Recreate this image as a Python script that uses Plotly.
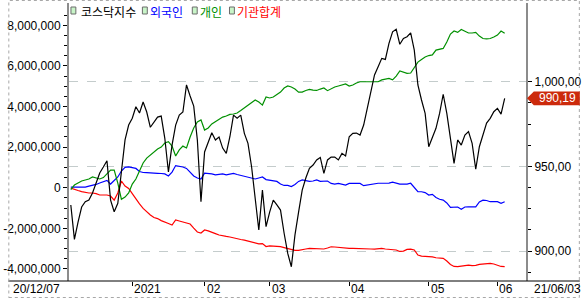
import plotly.graph_objects as go

# ---------------- data ----------------
series_names = ["코스닥지수", "외국인", "개인", "기관합계"]

# KOSDAQ index, one value per trading day 2020-12-07 .. 2021-06-03
kosdaq = [
    927.2, 906.9, 917.1, 926.0, 929.1, 930.1, 934.3, 940.9, 946.1, 949.6,
    953.3, 930.1, 923.2, 928.2, 945.9, 965.6, 974.4, 978.4, 985.2, 981.5,
    988.0, 982.1, 973.1, 976.2, 979.1, 979.7, 966.6, 946.7, 962.6, 974.4,
    980.3, 982.1, 998.1, 991.6, 985.6, 965.6, 929.1, 958.5, 964.4, 969.9,
    965.6, 967.3, 960.8, 957.7, 967.5, 980.3, 978.4, 980.3, 969.5, 963.6,
    949.8, 932.1, 912.4, 936.0, 914.4, 923.0, 930.1, 927.2, 924.2, 910.5,
    898.6, 890.7, 909.5, 923.0, 936.0, 943.1, 948.8, 950.8, 953.8, 955.3,
    945.9, 953.8, 955.5, 955.5, 953.8, 957.7, 956.1, 967.5, 969.5, 969.7,
    968.5, 974.4, 984.5, 995.1, 1004.0, 1008.9, 1013.8, 1013.2, 1022.7, 1029.5,
    1031.0, 1022.1, 1025.6, 1026.6, 1028.9, 1018.7, 998.1, 989.2, 981.3, 961.6,
    966.6, 972.5, 981.3, 992.6, 981.3, 967.5, 951.8, 965.6, 962.6, 968.5,
    970.5, 963.6, 948.3, 961.6, 968.5, 975.6, 978.4, 982.3, 984.3, 980.9,
    990.19,
]

# cumulative net buying, in millions (left axis)
foreign_m = [
    0.03, 0.03, 0.03, 0.01, 0.03, 0.08, 0.11, 0.16, 0.23, 0.28,
    0.36, 0.18, 0.38, 0.53, 0.82, 1.00, 1.03, 1.00, 0.95, 0.80,
    0.75, 0.74, 0.72, 0.72, 0.71, 0.70, 0.68, 0.58, 0.77, 1.09,
    1.07, 1.02, 0.95, 0.77, 0.58, 0.48, 0.43, 0.72, 0.71, 0.68,
    0.63, 0.65, 0.68, 0.63, 0.68, 0.70, 0.65, 0.61, 0.58, 0.53,
    0.50, 0.43, 0.48, 0.53, 0.40, 0.38, 0.36, 0.31, 0.18, 0.11,
    0.11, 0.06, 0.16, 0.31, 0.38, 0.33, 0.31, 0.33, 0.38, 0.31,
    0.33, 0.33, 0.21, 0.18, 0.21, 0.18, 0.13, 0.21, 0.22, 0.22,
    0.21, 0.10, 0.13, 0.16, 0.22, 0.22, 0.22, 0.22, 0.23, 0.27,
    0.23, 0.18, 0.18, 0.18, 0.22, 0.03, -0.19, -0.20, -0.24, -0.36,
    -0.33, -0.48, -0.57, -0.61, -0.75, -0.97, -0.97, -0.95, -1.06, -0.95,
    -0.94, -0.94, -0.94, -0.70, -0.61, -0.63, -0.69, -0.69, -0.69, -0.77,
    -0.69,
]

individual_m = [
    -0.09, 0.13, 0.23, 0.33, 0.38, 0.43, 0.53, 0.48, 0.43, 0.50,
    0.68, 0.87, 0.87, 0.23, -0.57, -0.46, -0.26, 0.18, 0.43, 0.87,
    1.22, 1.46, 1.61, 1.78, 1.91, 2.00, 2.20, 2.27, 2.05, 1.56,
    1.86, 2.05, 1.96, 2.50, 2.94, 3.24, 3.34, 2.84, 2.94, 3.14,
    3.24, 3.38, 3.48, 3.53, 3.61, 3.63, 3.68, 3.80, 3.93, 4.07,
    4.22, 4.32, 4.22, 4.07, 4.47, 4.42, 4.47, 4.57, 4.71, 4.91,
    5.01, 4.96, 4.86, 4.71, 4.71, 4.79, 4.84, 4.81, 4.79, 4.86,
    4.91, 4.78, 4.89, 4.96, 5.01, 5.06, 5.11, 5.01, 5.06, 5.16,
    5.22, 5.22, 5.22, 5.21, 5.21, 5.22, 5.31, 5.36, 5.38, 5.31,
    5.50, 5.75, 5.70, 5.63, 5.65, 5.90, 6.19, 6.32, 6.44, 6.51,
    6.54, 6.78, 6.82, 6.86, 7.18, 7.57, 7.72, 7.65, 7.79, 7.70,
    7.62, 7.62, 7.65, 7.47, 7.35, 7.33, 7.35, 7.42, 7.52, 7.72,
    7.61,
]

institution_m = [
    -0.02, -0.09, -0.14, -0.19, -0.24, -0.26, -0.26, -0.29, -0.36, -0.36,
    -0.36, -0.41, -0.61, -0.26, 0.33, 0.08, -0.04, -0.29, -0.56, -0.80,
    -1.02, -1.20, -1.34, -1.47, -1.52, -1.62, -1.71, -1.76, -1.84, -1.59,
    -1.64, -1.69, -1.74, -1.79, -1.99, -2.18, -2.23, -2.08, -2.13, -2.18,
    -2.26, -2.33, -2.38, -2.40, -2.43, -2.48, -2.53, -2.55, -2.58, -2.63,
    -2.68, -2.72, -2.77, -2.75, -2.90, -2.87, -2.87, -2.87, -2.90, -2.95,
    -3.00, -3.04, -3.09, -3.09, -3.07, -3.02, -2.99, -2.99, -3.02, -2.99,
    -3.02, -2.97, -2.91, -2.92, -2.94, -2.97, -2.99, -2.99, -2.99, -2.99,
    -2.99, -2.99, -2.99, -3.02, -3.03, -3.01, -2.99, -3.02, -3.04, -3.07,
    -3.07, -3.14, -3.12, -3.04, -3.03, -3.07, -3.32, -3.37, -3.38, -3.40,
    -3.41, -3.45, -3.48, -3.48, -3.61, -3.78, -3.88, -3.89, -3.86, -3.82,
    -3.81, -3.84, -3.83, -3.78, -3.77, -3.77, -3.73, -3.76, -3.81, -3.88,
    -3.89,
]

# x-axis: trading-day index of each month start, and labels
month_idx = [17, 37, 55, 77, 99, 118]
month_labels = ["2021", "02", "03", "04", "05", "06"]
start_label = "20/12/07"
end_label = "21/06/03"

left_tickvals = [-4e6, -2e6, 0, 2e6, 4e6, 6e6, 8e6]
left_ticktext = ["-4,000,000", "-2,000,000", "0", "2,000,000",
                 "4,000,000", "6,000,000", "8,000,000"]
right_tickvals = [900, 950, 1000]
right_ticktext = ["900,00", "950,00", "1,000,00"]
last_label = "990,19"

colors = ["#000000", "#0000ff", "#009000", "#ff0000"]

# ---------------- figure ----------------
W, H = 584, 298
L, R, T, B = 62, 55, 3, 17
PW, PH = W - L - R, H - T - B


def px(xp):
    return (xp - L) / PW


def py(yp):
    return 1 - (yp - T) / PH


xs = list(range(len(kosdaq)))
font = "Liberation Sans, Arial, sans-serif"
kfont = "Noto Sans CJK KR, sans-serif"

fig = go.Figure()
for name, vals, col in [(series_names[3], institution_m, colors[3]),
                        (series_names[1], foreign_m, colors[1]),
                        (series_names[2], individual_m, colors[2])]:
    fig.add_trace(go.Scatter(x=xs, y=[v * 1e6 for v in vals], mode="lines",
                             name=name, line=dict(color=col, width=1.2),
                             yaxis="y"))
fig.add_trace(go.Scatter(x=xs, y=kosdaq, mode="lines", name=series_names[0],
                         line=dict(color=colors[0], width=1.2), yaxis="y2"))

left_minor = [v * 5e5 for v in range(-7, 18) if v % 4 != 0]
right_minor = [887.5 + 12.5 * k for k in range(10) if (887.5 + 12.5 * k) % 50 != 0]

fig.update_layout(
    width=W, height=H,
    margin=dict(l=L, r=R, t=T, b=B, pad=0),
    paper_bgcolor="white", plot_bgcolor="white",
    showlegend=False,
    xaxis=dict(range=[-0.5, 125.9], tickmode="array", tickvals=month_idx,
               showticklabels=False, ticks="outside", ticklen=4,
               tickcolor="black", tickwidth=1, showgrid=False,
               zeroline=False, showline=False),
    yaxis=dict(range=[-4.596e6, 9.099e6], tickmode="array",
               tickvals=left_tickvals, ticktext=left_ticktext,
               ticks="outside", ticklen=4, tickcolor="black",
               showgrid=False, zeroline=False, showline=True,
               linecolor="#8c8c8c", linewidth=2,
               tickfont=dict(family=font, size=12, color="black"),
               minor=dict(tickvals=left_minor, ticks="outside", ticklen=3,
                          tickcolor="black", showgrid=False)),
    yaxis2=dict(range=[882.3, 1046.5], overlaying="y", side="right",
                tickmode="array", tickvals=right_tickvals,
                ticktext=right_ticktext, ticks="outside", ticklen=4,
                tickcolor="black", showgrid=True, gridcolor="#c4cccc",
                griddash="dash", gridwidth=1, zeroline=False,
                showline=True, linecolor="#8c8c8c", linewidth=2,
                tickfont=dict(family=font, size=12, color="black"),
                minor=dict(tickvals=right_minor, ticks="outside", ticklen=3,
                           tickcolor="black", showgrid=False)),
)

shapes = []
# full-width bottom line
shapes.append(dict(type="line", xref="paper", yref="paper",
                   x0=px(0), x1=px(W), y0=0, y1=0,
                   line=dict(color="black", width=1)))
# dotted outer frame
shapes.append(dict(type="rect", xref="paper", yref="paper",
                   x0=px(0.5), x1=px(W - 0.5), y0=py(H - 0.5), y1=py(0.5),
                   line=dict(color="#a8a8a8", width=1, dash="dot")))
# last value marker (pentagon)
lv = kosdaq[-1]
hh = 4.1
shapes.append(dict(type="path", xref="paper", yref="y2",
                   path=(f"M {px(530)},{lv} L {px(537)},{lv + hh} "
                         f"L {px(584)},{lv + hh} L {px(584)},{lv - hh} "
                         f"L {px(537)},{lv - hh} Z"),
                   fillcolor="#cc2a0c", line=dict(width=0)))

# legend icons
icon_x = [64, 137, 188, 226]
for ix in icon_x:
    shapes.append(dict(type="rect", xref="paper", yref="paper",
                       x0=px(ix), x1=px(ix + 5), y0=py(14), y1=py(7),
                       fillcolor="#c8f5c8", line=dict(color="#6c6c6c", width=1)))
fig.update_layout(shapes=shapes)

ann = []
text_x = [73, 144, 195, 233]
for name, tx, col in zip(series_names, text_x, colors):
    ann.append(dict(text=name, xref="paper", yref="paper", x=px(tx), y=py(11),
                    xanchor="left", yanchor="middle", showarrow=False,
                    borderpad=0, font=dict(family=kfont, size=12, color=col)))
for i, lab in zip(month_idx, month_labels):
    ann.append(dict(text=lab, xref="x", yref="paper", x=i, y=0, xshift=1,
                    xanchor="left", yanchor="top", showarrow=False,
                    borderpad=0, font=dict(family=font, size=12, color="black")))
ann.append(dict(text=start_label, xref="paper", yref="paper", x=px(4), y=0,
                xanchor="left", yanchor="top", showarrow=False, borderpad=0,
                font=dict(family=font, size=12, color="black")))
ann.append(dict(text=end_label, xref="paper", yref="paper", x=px(536), y=0,
                xanchor="left", yanchor="top", showarrow=False, borderpad=0,
                font=dict(family=font, size=12, color="black")))
ann.append(dict(text=last_label, xref="paper", yref="y2", x=px(561), y=lv,
                xanchor="center", yanchor="middle", showarrow=False,
                borderpad=0, font=dict(family=font, size=12, color="white")))
fig.update_layout(annotations=ann)

fig.write_html("out.html")
